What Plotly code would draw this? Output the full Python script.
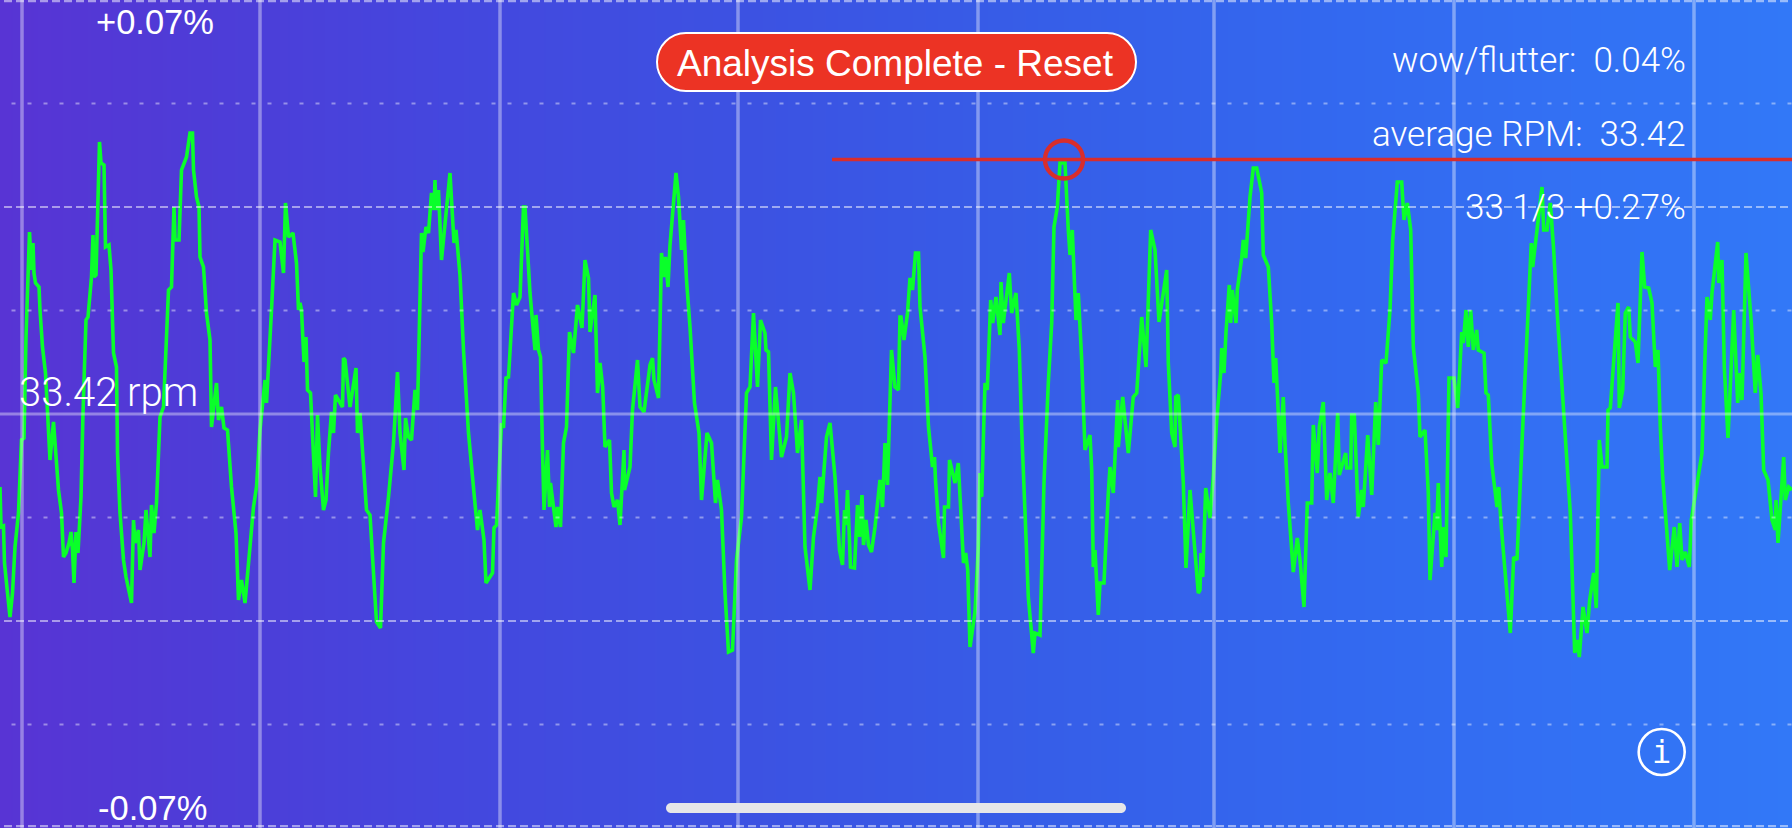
import plotly.graph_objects as go

# wow & flutter trace: sample position and deviation in 1/414ths of the 0.07 % full scale
sample = [0,1,3.5,4.5,6.5,10,12.5,15,18.5,21.5,24,26,29.5,31.5,33,34,35.5,39,40,42.5,45.5,47.5,50,53.5,56,58.5,61.5,63.5,66,69,71,72.5,74,76,78,81,83,86,88,91.5,93,94,96,99.5,101,104,105.5,109,111,113.5,116.5,117.5,120,123.5,126,131.5,133.5,135,138.5,140,144,146,150,151.5,154,156.5,160,163.5,168.5,171.5,174,175,179,181.5,186.5,190,192.5,193.5,196.5,199,200,203.5,206.5,210,211.5,216.5,218.5,221.5,224,227.5,231.5,236,238.5,241.5,245,248.5,253.5,256.5,260,265,266.5,271.5,275,280,283.5,285.5,288.5,293,296.5,298.5,
300,301.5,304,306,307.5,310.5,312.5,315.5,317.5,320,323.5,326,328.5,331.5,333.5,335.5,342.5,343.5,345,350,356,357.5,360,361.5,363.5,366.5,370,373.5,376.5,380.5,383.5,388.5,393.5,397.5,400,404,405.5,408.5,411.5,415,417.5,421.5,423,426,428.5,431.5,434,435,436,438.5,441.5,450,454,456,460,463.5,468.5,474,477.5,480,484,486,492.5,494,496.5,501.5,503.5,506,508.5,513.5,516.5,520,523.5,525,530,535,536,538.5,540.5,542.5,544,547.5,549.5,550.5,556,557.5,560.5,563.5,566.5,569.5,573.5,577.5,582,585,588.5,590,595,597.5,
600,602.7,605,609.5,611.5,614,617.5,620,624,624.5,630,632.5,637.5,640,644,650,652.5,654,658.5,661.5,663.5,665.5,668,670,676,678.5,681.5,683.5,686.5,690,694.5,699,701.5,707,711.5,715.5,717.5,721.5,725,728.5,732.5,736.5,739,741.5,746.5,750,753.5,757.5,760.5,765,766,768.5,771.5,775.5,781.5,786.5,790,793.5,797.5,801.5,805,810,813.5,817.5,820,821.5,826.5,830,835,839.5,842.5,844.5,846,847.5,850.5,854.5,857.5,859.5,862,863.5,866,868.5,871.5,875,880,882.5,885,887.5,891.5,895,898.5,
900,901,904,907.5,910,912.5,915.5,918.5,920,925,928.5,932.5,934.5,935.5,938.5,943.5,944.5,948.5,949.5,955,958.3,961,963.5,965.7,967.7,970,975,978.3,980,981.7,985,987.3,990.7,992.7,996,1000,1001,1003.3,1009.3,1011.7,1016,1019.3,1021.7,1026,1028.3,1033.3,1035,1040,1044,1048.3,1051.7,1054,1057.3,1060,1065,1068.3,1070,1072.3,1075,1076,1078.3,1081.7,1085,1090,1091.7,1093.3,1095,1098.3,1100,1104,1108.3,1110,1113.3,1117.7,1118.3,1122.7,1128.3,1133.3,1136.7,1141.7,1146,1148.3,1150.7,1155,1159,1166.7,1168.3,1171.7,1175,1175.7,1178.3,1183.3,1186,1190,1198.3,
1200,1201,1202.7,1205.7,1210,1213.3,1216.7,1220.7,1221.7,1224,1226,1229.3,1230.7,1232.3,1236,1237.3,1241.7,1243.3,1245.7,1250,1253.3,1256.7,1261.7,1263.3,1268.3,1271.7,1274,1275.7,1278.3,1280,1283.3,1285,1288.3,1293.3,1297.3,1300,1304,1307.3,1311.7,1313.3,1317.3,1319.3,1323.3,1326.7,1330,1333.3,1337.7,1339.3,1345.7,1346.7,1350.7,1351.7,1354.3,1358.3,1361.7,1363.3,1367.7,1371.7,1375.7,1378.3,1381.7,1386,1390,1392.7,1397.3,1401.7,1404,1407.3,1410.7,1413.3,1418.3,1420,1425,1428.3,1430,1435,1436.7,1438.3,1441.7,1443.3,1446,1449,1454,1457.7,1461.7,1463.3,1466,1468.3,1470.7,1473.3,1476.7,1478.3,1484,1486,1488.3,1491.7,
1497,1498.7,1501.3,1510.3,1513.7,1517,1522,1526.3,1531.3,1532.7,1537,1542,1543.7,1547,1550.3,1553.7,1557,1563.7,1570.3,1574.7,1577.3,1579.3,1583,1587,1589.7,1593.7,1596.3,1599.3,1602,1607,1608,1610.3,1616,1618,1619.3,1622.7,1625.3,1628.7,1630.3,1635.3,1638,1639.3,1642,1644.7,1648.7,1652,1655.3,1658,1660.3,1662.7,1667,1669.7,1674.3,1677,1679.7,1682,1685.3,1689.3,1691.3,1695.3,1702,1705.3,1707,1710.3,1712,1717.7,1718.7,1722,1724.3,1728,1733.7,1737.7,1739.3,1742,1746,1751.3,1755.3,1757.7,1761,1763.7,1768,1772,1775.3,1776,1778,1783.7,1785.3,1788.7,1792]

deviation = [-73,-113,-112,-149,-169,-203,-179,-133,-99,-26,-24,77,182,144,171,141,131,127,104,67,41,-6,-46,-8,-39,-76,-99,-143,-139,-129,-118,-136,-169,-118,-139,-83,1,94,97,137,179,137,139,272,251,249,167,169,144,61,47,-39,-99,-146,-163,-189,-106,-129,-116,-156,-129,-96,-143,-91,-119,-89,-3,7,124,127,207,174,174,244,257,281,281,244,217,207,157,147,101,74,-13,31,-6,7,-14,-16,-73,-119,-186,-166,-189,-153,-93,-73,-16,34,11,104,174,172,141,211,177,181,151,104,
111,104,52,77,24,21,-29,-83,-1,-53,-96,-86,-38,2,-19,19,7,56,54,7,46,-19,1,-19,-51,-96,-101,-156,-208,-214,-129,-83,-29,42,-19,-56,-4,-23,-26,24,4,181,162,187,181,221,204,234,204,224,154,241,171,184,139,64,-19,-79,-116,-96,-126,-169,-159,-114,-111,-9,-14,36,37,121,109,117,207,207,121,64,99,64,57,-36,-96,-36,-93,-69,-113,-93,-113,-29,-13,82,61,109,86,154,136,82,119,21,
51,27,-33,-26,-79,-93,-86,-111,-36,-76,-53,4,54,7,2,49,56,34,16,161,137,157,127,169,241,217,164,194,134,87,11,-19,-86,-19,-29,-89,-66,-96,-179,-238,-236,-146,-121,-103,21,27,101,27,94,81,64,62,-46,27,-43,-23,41,21,-39,-6,-133,-176,-123,-93,-63,-89,-23,-9,-63,-136,-151,-96,-111,-76,-153,-154,-91,-123,-81,-131,-106,-131,-138,-113,-66,-93,-29,-71,64,27,24,
97,97,74,101,136,124,161,161,107,57,-13,-53,-43,-66,-109,-144,-93,-93,-46,-69,-49,-101,-149,-139,-156,-233,-198,-133,-59,-83,31,24,114,91,117,79,132,91,141,101,121,64,-16,-123,-183,-239,-219,-221,-69,31,91,187,207,251,251,184,159,184,121,94,121,54,-36,-21,-56,-153,-136,-201,-169,-169,-79,-53,-79,14,-33,17,-39,17,21,97,47,111,184,164,92,144,51,-19,-33,17,19,-69,-154,-76,-179,
-176,-139,-163,-74,-104,-63,-6,41,66,41,82,129,91,124,91,124,156,174,156,217,246,246,221,159,147,91,31,56,1,-39,17,-29,-89,-158,-124,-146,-193,-89,-89,-11,-59,-13,12,-86,-59,-89,1,-61,-39,-54,-54,-1,-1,-103,-76,-93,-21,-81,12,-31,54,51,104,174,232,232,194,211,184,67,21,-23,-16,-79,-166,-99,-116,-69,-153,-113,-143,36,36,6,82,71,104,67,104,64,84,64,61,21,19,-49,
-93,-73,-113,-219,-143,-146,-29,64,171,147,187,227,184,184,211,164,104,1,-99,-239,-226,-243,-193,-219,-186,-159,-194,-26,-53,-53,4,6,84,111,6,24,101,107,77,72,51,97,162,127,126,111,47,64,-13,-63,-123,-156,-113,-153,-109,-146,-138,-153,-106,-79,-39,67,117,94,121,172,131,154,47,-24,104,11,41,14,161,91,21,59,21,-56,-66,-106,-116,-86,-129,-43,-86,-73,-76]

# chart scale and read-outs
full_scale_pct = 0.07
average_rpm = "33.42 rpm"
top_label = "+0.07%"
bottom_label = "-0.07%"
readouts = ["wow/flutter:\u00a0\u00a00.04%", "average RPM:\u00a0\u00a033.42", "33 1/3 +0.27%"]
button_label = "Analysis Complete - Reset"
peak_sample = 1064
peak_deviation = 254.5
major_x = [22, 260, 500, 738, 978, 1214, 1454, 1694]
dashed_divisions = [4, 2, -2, -4]
dotted_divisions = [3, 1, -1, -3]
bg_pos = [0, 200, 450, 750, 1050, 1350, 1792]
bg_col = ["#5834d4", "#4e3cd7", "#4447de", "#3c52e2", "#365ee8", "#3369f0", "#3278f7"]

W, H = 1792, 828
to_pct = full_scale_pct / 414
div_pct = full_scale_pct / 4

def hline_points(levels, x0):
    xs, ys = [], []
    for lv in levels:
        y = lv * div_pct
        y = max(min(y, full_scale_pct * 0.9975), -full_scale_pct * 0.9955)
        xs += [x0, W, None]
        ys += [y, y, None]
    return xs, ys

fig = go.Figure()
fig.add_trace(go.Heatmap(
    x=[0, W], y=[-full_scale_pct, full_scale_pct], z=[[0, W], [0, W]],
    zmin=0, zmax=W, zsmooth="best", showscale=False, hoverinfo="skip",
    colorscale=[[p / W, c] for p, c in zip(bg_pos, bg_col)],
))
fig.add_trace(go.Scatter(
    x=sample, y=[d * to_pct for d in deviation], mode="lines",
    line=dict(color="#0aff2a", width=3.6, shape="linear"), hoverinfo="skip",
))

vx, vy = [], []
for x in major_x:
    vx += [x, x, None]
    vy += [-full_scale_pct, full_scale_pct, None]
fig.add_trace(go.Scatter(x=vx, y=vy, mode="lines", hoverinfo="skip",
                         line=dict(color="rgba(255,255,255,0.38)", width=3.5)))
fig.add_trace(go.Scatter(x=[0, W], y=[0, 0], mode="lines", hoverinfo="skip",
                         line=dict(color="rgba(255,255,255,0.38)", width=3)))
dx, dy = hline_points(dashed_divisions, 4)
fig.add_trace(go.Scatter(x=dx, y=dy, mode="lines", hoverinfo="skip",
                         line=dict(color="rgba(255,255,255,0.5)", width=2.2, dash="8px,4px")))
ox, oy = hline_points(dotted_divisions, -4.5)
fig.add_trace(go.Scatter(x=ox, y=oy, mode="lines", hoverinfo="skip",
                         line=dict(color="rgba(255,255,255,0.42)", width=2.2, dash="4px,12px")))
fig.add_trace(go.Scatter(
    x=[832, W], y=[peak_deviation * to_pct] * 2, mode="lines", hoverinfo="skip",
    line=dict(color="#d92d2c", width=3.4),
))
fig.add_trace(go.Scatter(
    x=[peak_sample], y=[peak_deviation * to_pct], mode="markers", hoverinfo="skip",
    marker=dict(symbol="circle-open", size=38, color="#d92d2c", line=dict(color="#d92d2c", width=4.4)),
))

def px(x):
    return x / W
def py(y):
    return 1 - y / H

def pill(x0, y0, x1, y1, r):
    k = 0.45 * r
    pts = [
        f"M {px(x0 + r)},{py(y0)}", f"L {px(x1 - r)},{py(y0)}",
        f"C {px(x1 - k)},{py(y0)} {px(x1)},{py(y0 + k)} {px(x1)},{py(y0 + r)}",
        f"L {px(x1)},{py(y1 - r)}",
        f"C {px(x1)},{py(y1 - k)} {px(x1 - k)},{py(y1)} {px(x1 - r)},{py(y1)}",
        f"L {px(x0 + r)},{py(y1)}",
        f"C {px(x0 + k)},{py(y1)} {px(x0)},{py(y1 - k)} {px(x0)},{py(y1 - r)}",
        f"L {px(x0)},{py(y0 + r)}",
        f"C {px(x0)},{py(y0 + k)} {px(x0 + k)},{py(y0)} {px(x0 + r)},{py(y0)}", "Z",
    ]
    return " ".join(pts)

shapes = [
    dict(type="path", xref="paper", yref="paper", layer="above", path=pill(657, 33, 1136, 91, 29),
         fillcolor="#ec3324", line=dict(color="white", width=2)),
    dict(type="path", xref="paper", yref="paper", layer="above", path=pill(666, 803, 1126, 813, 5),
         fillcolor="#e6e6e8", line=dict(width=0)),
    dict(type="circle", xref="paper", yref="paper", layer="above",
         x0=px(1661.7 - 23), x1=px(1661.7 + 23), y0=py(752 + 23), y1=py(752 - 23),
         fillcolor="rgba(0,0,0,0)", line=dict(color="white", width=2.6)),
]

def label(text, x, y, size, anchor="center", family="Liberation Sans", color="white", weight=None):
    return dict(text=text, x=px(x), y=py(y), xref="paper", yref="paper", showarrow=False,
                xanchor=anchor, yanchor="middle", align=anchor,
                font=dict(family=family, size=size, color=color, weight=weight))

annotations = [
    label(top_label, 155, 22, 34.5),
    label(bottom_label, 152, 808, 34.5),
    label(average_rpm, 108.5, 392, 40, family="Roboto", weight=300),
    label(readouts[0], 1688, 61, 35, "right", family="Roboto", weight=300),
    label(readouts[1], 1688, 134, 35, "right", family="Roboto", weight=300),
    label(readouts[2], 1688, 207, 35, "right", family="Roboto", weight=300),
    label(button_label, 895.5, 63, 37),
    label("i", 1661.7, 752, 32, family="DejaVu Sans Mono"),
]

fig.update_layout(
    width=W, height=H, margin=dict(l=0, r=0, t=0, b=0), showlegend=False,
    paper_bgcolor="#3c52e2", plot_bgcolor="rgba(0,0,0,0)",
    xaxis=dict(range=[0, W], visible=False, fixedrange=True),
    yaxis=dict(range=[-full_scale_pct, full_scale_pct], visible=False, fixedrange=True),
    shapes=shapes, annotations=annotations,
)
fig.write_html(
    "out.html", config={"displayModeBar": False},
    post_script="document.body.style.margin='0';document.documentElement.style.overflow='hidden';",
)
